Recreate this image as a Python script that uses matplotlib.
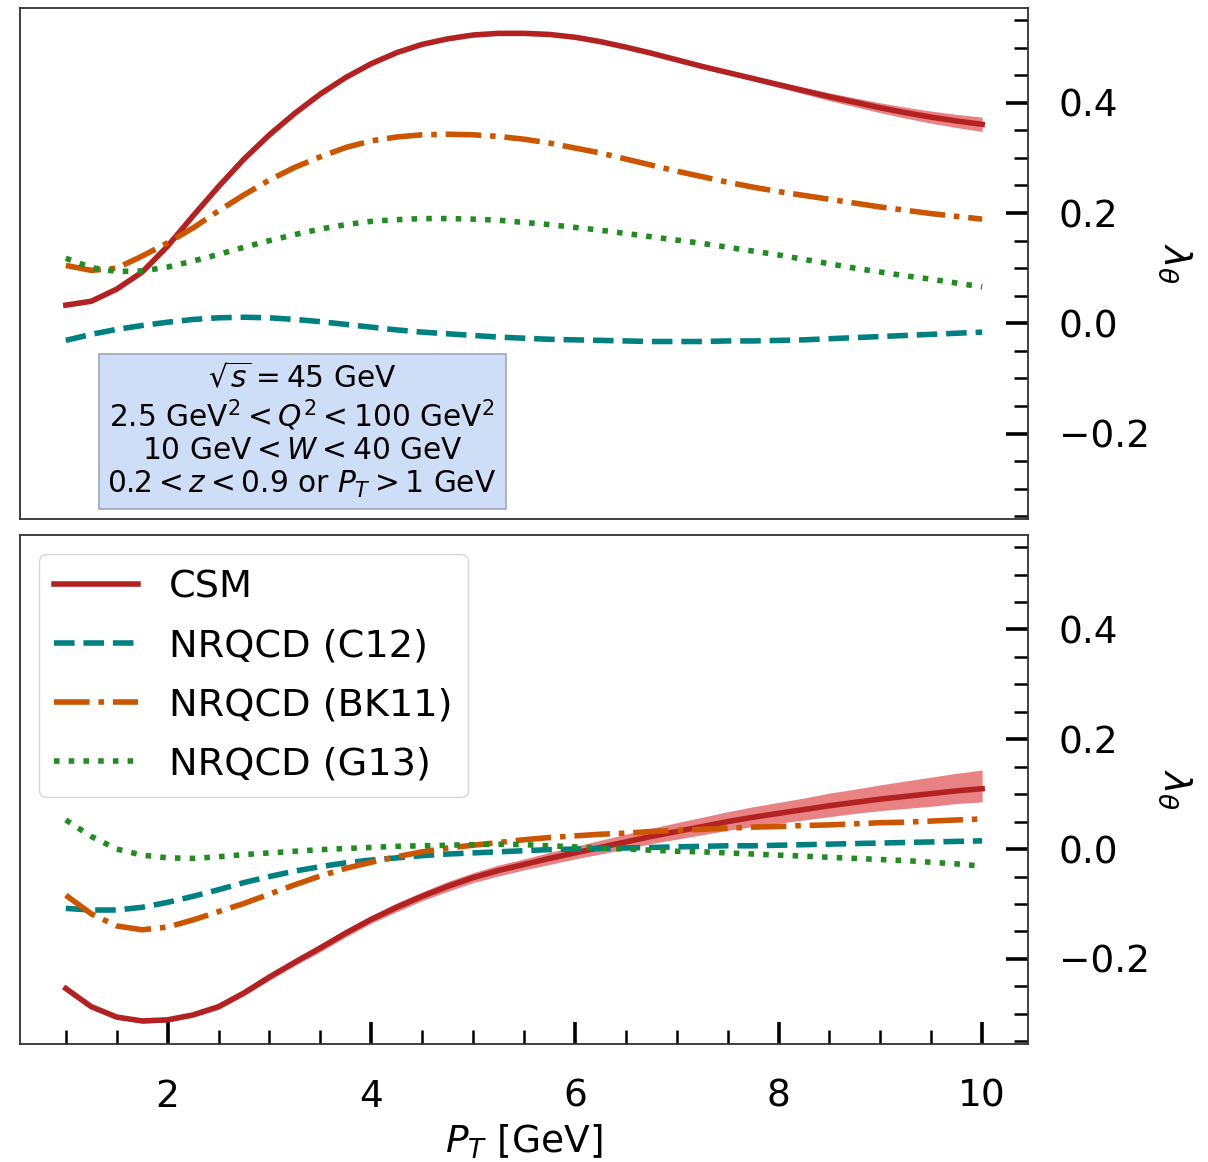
import numpy as np
import matplotlib
matplotlib.use("Agg")
import matplotlib.pyplot as plt
from matplotlib.ticker import MultipleLocator

# ==========================
# P_T grid [GeV]
# ==========================

pt = [1.0, 1.25, 1.5, 1.75, 2.0, 2.25, 2.5, 2.75, 3.0, 3.25, 3.5, 3.75,
      4.0, 4.25, 4.5, 4.75, 5.0, 5.25, 5.5, 5.75, 6.0, 6.25, 6.5, 6.75,
      7.0, 7.25, 7.5, 7.75, 8.0, 8.25, 8.5, 8.75, 9.0, 9.25, 9.5, 9.75, 10.0]

# ==========================
# upper panel : lambda_theta
# ==========================

top_csm = [0.033, 0.040, 0.062, 0.093, 0.140, 0.195, 0.248, 0.298, 0.342, 0.381, 0.416, 0.446,
           0.471, 0.491, 0.506, 0.516, 0.523, 0.526, 0.526, 0.524, 0.519, 0.511, 0.501, 0.490,
           0.478, 0.466, 0.455, 0.444, 0.433, 0.422, 0.411, 0.401, 0.391, 0.382, 0.374, 0.367, 0.361]
top_csm_err = [0.002, 0.002, 0.002, 0.002, 0.002, 0.002, 0.002, 0.002, 0.002, 0.002, 0.002, 0.002,
               0.002, 0.002, 0.002, 0.002, 0.002, 0.002, 0.002, 0.002, 0.002, 0.002, 0.002, 0.002,
               0.002, 0.003, 0.003, 0.004, 0.005, 0.006, 0.007, 0.008, 0.009, 0.010, 0.011, 0.012, 0.013]
top_c12 = [-0.031, -0.020, -0.011, -0.004, 0.002, 0.007, 0.010, 0.011, 0.010, 0.007, 0.003, -0.002,
           -0.007, -0.012, -0.016, -0.019, -0.022, -0.025, -0.027, -0.029, -0.030, -0.031, -0.032, -0.033,
           -0.033, -0.033, -0.032, -0.032, -0.031, -0.030, -0.028, -0.026, -0.024, -0.022, -0.020, -0.018, -0.016]
top_bk11 = [0.105, 0.096, 0.100, 0.122, 0.146, 0.173, 0.204, 0.233, 0.260, 0.283, 0.302, 0.319,
            0.331, 0.338, 0.342, 0.343, 0.342, 0.339, 0.334, 0.327, 0.318, 0.309, 0.298, 0.287,
            0.276, 0.266, 0.256, 0.247, 0.239, 0.232, 0.225, 0.218, 0.211, 0.205, 0.199, 0.194, 0.189]
top_g13 = [0.118, 0.101, 0.094, 0.095, 0.102, 0.113, 0.125, 0.138, 0.150, 0.161, 0.171, 0.179,
           0.185, 0.188, 0.190, 0.190, 0.189, 0.187, 0.183, 0.179, 0.174, 0.169, 0.163, 0.157,
           0.151, 0.145, 0.138, 0.131, 0.124, 0.116, 0.108, 0.100, 0.093, 0.086, 0.080, 0.073, 0.066]

# ==========================
# lower panel : lambda_theta
# ==========================

bot_csm = [-0.254, -0.287, -0.306, -0.313, -0.311, -0.302, -0.287, -0.262, -0.233, -0.206, -0.180, -0.153,
           -0.128, -0.106, -0.086, -0.068, -0.052, -0.039, -0.028, -0.017, -0.007, 0.003, 0.013, 0.023,
           0.032, 0.041, 0.050, 0.058, 0.065, 0.072, 0.079, 0.085, 0.091, 0.096, 0.101, 0.106, 0.110]
bot_csm_err_up = [0.003, 0.003, 0.003, 0.004, 0.004, 0.004, 0.005, 0.005, 0.006, 0.006, 0.007, 0.007,
                  0.007, 0.008, 0.008, 0.009, 0.009, 0.010, 0.010, 0.011, 0.012, 0.013, 0.014, 0.015,
                  0.016, 0.017, 0.018, 0.019, 0.020, 0.021, 0.023, 0.024, 0.026, 0.028, 0.030, 0.032, 0.034]
bot_csm_err_dn = [0.003, 0.003, 0.003, 0.004, 0.004, 0.004, 0.005, 0.005, 0.006, 0.006, 0.007, 0.007,
                  0.007, 0.008, 0.008, 0.009, 0.009, 0.010, 0.010, 0.011, 0.011, 0.012, 0.013, 0.013,
                  0.014, 0.015, 0.016, 0.017, 0.018, 0.019, 0.020, 0.020, 0.021, 0.022, 0.023, 0.023, 0.024]
bot_c12 = [-0.108, -0.111, -0.111, -0.106, -0.097, -0.086, -0.074, -0.061, -0.050, -0.040, -0.032, -0.025,
           -0.020, -0.016, -0.012, -0.009, -0.007, -0.005, -0.003, -0.001, 0.000, 0.001, 0.002, 0.003,
           0.004, 0.005, 0.006, 0.006, 0.007, 0.008, 0.009, 0.010, 0.011, 0.012, 0.013, 0.014, 0.015]
bot_bk11 = [-0.084, -0.118, -0.140, -0.147, -0.142, -0.129, -0.114, -0.099, -0.082, -0.065, -0.049, -0.035,
            -0.024, -0.014, -0.005, 0.002, 0.007, 0.012, 0.017, 0.021, 0.024, 0.027, 0.029, 0.032,
            0.034, 0.036, 0.038, 0.040, 0.041, 0.043, 0.044, 0.046, 0.048, 0.049, 0.051, 0.053, 0.055]
bot_g13 = [0.053, 0.023, 0.000, -0.011, -0.016, -0.017, -0.014, -0.010, -0.007, -0.004, -0.001, 0.001,
           0.003, 0.005, 0.006, 0.007, 0.008, 0.009, 0.008, 0.006, 0.004, 0.002, 0.000, -0.002,
           -0.004, -0.005, -0.007, -0.009, -0.011, -0.013, -0.015, -0.017, -0.019, -0.021, -0.024, -0.027, -0.031]

labels = ["CSM", "NRQCD (C12)", "NRQCD (BK11)", "NRQCD (G13)"]
colors = ["#b22222", "#008080", "#cc5500", "#228b22"]
styles = ["-", "--", "-.", ":"]
band_color = "#e98282"

# ==========================
# figure
# ==========================

FS = 27
LW = 4

fig = plt.figure(figsize=(12.08, 11.62), dpi=100)
ax_top = fig.add_axes([0.01656, 0.55336, 0.8344, 0.43976])
ax_bot = fig.add_axes([0.01656, 0.10155, 0.8344, 0.43804], sharex=ax_top, sharey=ax_top)

pt_arr = np.array(pt)


def draw_panel(ax, csm, lo, hi, c12, bk11, g13):
    ax.fill_between(pt_arr, lo, hi, color=band_color, lw=0, zorder=1)
    for y, lab, c, ls in zip([csm, c12, bk11, g13], labels, colors, styles):
        ax.plot(pt_arr, y, ls, color=c, lw=LW, label=lab, zorder=2)


top_arr = np.array(top_csm)
draw_panel(ax_top, top_arr,
           top_arr - np.array(top_csm_err), top_arr + np.array(top_csm_err),
           top_c12, top_bk11, top_g13)

bot_arr = np.array(bot_csm)
draw_panel(ax_bot, bot_arr,
           bot_arr - np.array(bot_csm_err_dn), bot_arr + np.array(bot_csm_err_up),
           bot_c12, bot_bk11, bot_g13)

ax_top.set_xlim(0.55, 10.45)
ax_top.set_ylim(-0.355, 0.572)

for ax in (ax_top, ax_bot):
    for sp in ax.spines.values():
        sp.set_color("#333333")
        sp.set_linewidth(1.3)
    ax.yaxis.tick_right()
    ax.yaxis.set_label_position("right")
    ax.yaxis.set_major_locator(MultipleLocator(0.2))
    ax.yaxis.set_minor_locator(MultipleLocator(0.05))
    ax.xaxis.set_major_locator(MultipleLocator(2))
    ax.xaxis.set_minor_locator(MultipleLocator(0.5))
    ax.tick_params(axis="y", which="major", direction="in", length=16, width=2.6,
                   labelsize=FS, pad=22, left=False, right=True)
    ax.tick_params(axis="y", which="minor", direction="in", length=10, width=1.8,
                   left=False, right=True)
    ax.set_ylabel(r"$\lambda_\theta$", fontsize=FS, rotation=-90, va="bottom", labelpad=5)

ax_top.tick_params(axis="x", which="both", bottom=False, top=False, labelbottom=False)
ax_bot.tick_params(axis="x", which="major", direction="in", length=16, width=2.6,
                   labelsize=FS, pad=25, top=False)
ax_bot.tick_params(axis="x", which="minor", direction="in", length=10, width=1.8, top=False)
ax_bot.set_xlabel(r"$P_T$ [GeV]", fontsize=FS, labelpad=6)

# kinematic cuts
cuts = "\n".join([
    r"$\sqrt{s} = 45$ GeV",
    r"2.5 GeV$^2 < Q^2 < 100$ GeV$^2$",
    r"10 GeV$ < W < 40$ GeV",
    r"$0.2 < z < 0.9$ or $P_T > 1$ GeV",
])
ax_top.text(0.2798, 0.037, cuts, transform=ax_top.transAxes, ha="center", va="bottom",
            fontsize=21.3, linespacing=1.15, zorder=5,
            bbox=dict(boxstyle="square,pad=0.3", facecolor="#cfdef7", edgecolor="#a0a8b8", lw=1.2))

ax_bot.legend(loc="upper left", fontsize=27.5, handlelength=2.2, labelspacing=0.6,
              framealpha=0.8, edgecolor="#cccccc")

fig.savefig("out.png", dpi=100)
